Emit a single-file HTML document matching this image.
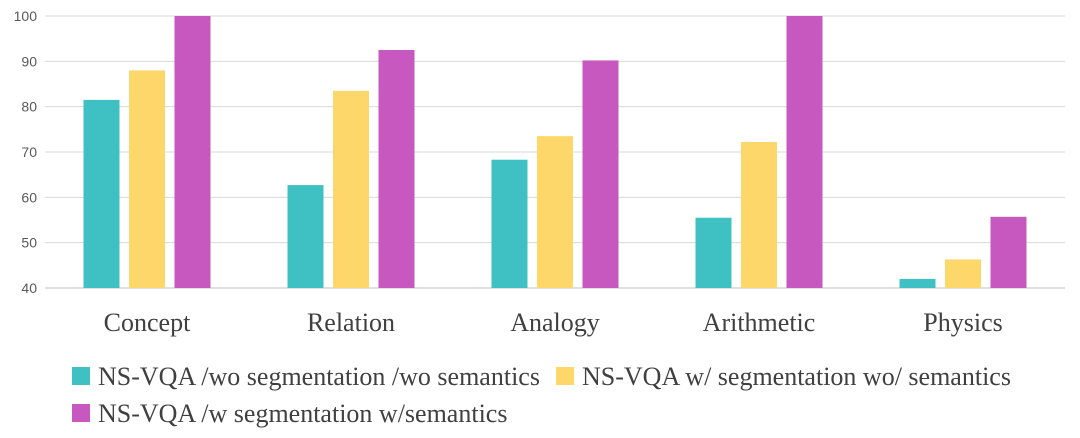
<!DOCTYPE html>
<html><head><meta charset="utf-8"><style>
body{margin:0;background:#fff;width:1080px;height:433px;overflow:hidden}
svg text{font-family:"Liberation Serif",serif}
</style></head><body>
<svg id="chart" width="1080" height="433"></svg>
<script>
const categories=["Concept","Relation","Analogy","Arithmetic","Physics"];
const seriesNames=["NS-VQA /wo segmentation /wo semantics","NS-VQA w/ segmentation wo/ semantics","NS-VQA /w segmentation w/semantics"];
const seriesA=[81.5,62.7,68.3,55.5,42.0];
const seriesB=[88.0,83.5,73.5,72.2,46.3];
const seriesC=[100,92.5,90.2,100,55.7];
const yTicks=[40,50,60,70,80,90,100];
const colors=["#3FC1C3","#FDD76A","#C758C0"];
const series=[seriesA,seriesB,seriesC];
const svg=document.getElementById('chart');
const NS='http://www.w3.org/2000/svg';
const x0=45,x1=1065,yTop=16,yBot=288,vMin=40,vMax=100;
const y=v=>yBot-(v-vMin)/(vMax-vMin)*(yBot-yTop);
const gw=(x1-x0)/categories.length;
function mk(t,a){const e=document.createElementNS(NS,t);for(const k in a)e.setAttribute(k,a[k]);svg.appendChild(e);return e;}
yTicks.forEach(v=>{
 const l=mk('line',{x1:x0,x2:x1,y1:y(v),y2:y(v),stroke:v===vMin?'#bfbfbf':'#d9d9d9','stroke-width':1});
 
 
 const t=mk('text',{x:37,y:y(v)+5,'text-anchor':'end','font-size':14,fill:'#595959',style:'font-family:"Liberation Sans",sans-serif'});
 t.textContent=v;
 
 
});
const bw=36,gap=9.5;
categories.forEach((c,i)=>{
 const cx=x0+gw*(i+0.5);
 series.forEach((s,j)=>{
  const bx=cx+(j-1)*(bw+gap)-bw/2;
  const r=mk('rect',{x:bx,y:y(s[i]),width:bw,height:yBot-y(s[i]),fill:colors[j]});
  
  
 });
 const t=mk('text',{x:cx,y:331,'text-anchor':'middle','font-size':26,fill:'#404040'});
 t.textContent=c;
 
 
});
const legPos=[[72,376],[556,376],[72,413]];
seriesNames.forEach((n,j)=>{
 const [lx,ly]=legPos[j];
 const r=mk('rect',{x:lx,y:ly-9,width:18,height:18,fill:colors[j]});
 
 
 const t=mk('text',{x:lx+26,y:ly+9,'font-size':26,fill:'#404040'});
 t.textContent=n;
 
 
});
</script>
</body></html>
